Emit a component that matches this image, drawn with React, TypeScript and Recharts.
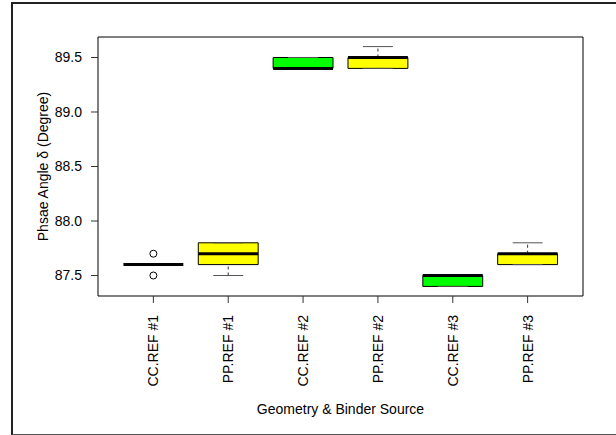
import React from 'react';
import {
  ComposedChart,
  XAxis,
  YAxis,
  Scatter,
  ReferenceArea,
  ReferenceLine,
  Label,
} from 'recharts';

const categories = ['CC.REF #1', 'PP.REF #1', 'CC.REF #2', 'PP.REF #2', 'CC.REF #3', 'PP.REF #3'];
const whiskerLow = [87.6, 87.5, 89.4, 89.4, 87.4, 87.6];
const quartile1 = [87.6, 87.6, 89.4, 89.4, 87.4, 87.6];
const medians = [87.6, 87.7, 89.4, 89.5, 87.5, 87.7];
const quartile3 = [87.6, 87.8, 89.5, 89.5, 87.5, 87.7];
const whiskerHigh = [87.6, 87.8, 89.5, 89.6, 87.5, 87.8];
const outlierGroup = [1, 1];
const outlierValue = [87.7, 87.5];
const yTicks = [87.5, 88.0, 88.5, 89.0, 89.5];

const fillColors = ['#00ff00', '#ffff00'];
const FONT = '"Liberation Sans", Arial, Helvetica, sans-serif';

// R-style axis ranges: 4% padding on each side
const X_DOMAIN: [number, number] = [0.26, 6.74];
const Y_DOMAIN: [number, number] = [87.312, 89.688];
const HALF_BOX = 0.4;
const HALF_CAP = 0.2;

const boxes = categories.map((name, i) => ({
  name,
  pos: i + 1,
  lo: whiskerLow[i],
  q1: quartile1[i],
  med: medians[i],
  q3: quartile3[i],
  hi: whiskerHigh[i],
  fill: fillColors[i % 2],
}));

const outliers = outlierGroup.map((g, i) => ({ group: g, value: outlierValue[i] }));

const CategoryTick = (props: any) => {
  const { x, y, payload } = props;
  return (
    <text
      x={x}
      y={y}
      dy="0.36em"
      transform={`rotate(-90, ${x}, ${y})`}
      textAnchor="end"
      fontSize={14}
      fontFamily={FONT}
      fill="#000"
    >
      {categories[payload.value - 1]}
    </text>
  );
};

const OpenCircle = (props: any) => (
  <circle cx={props.cx} cy={props.cy} r={3.5} fill="none" stroke="#000" strokeWidth={1} />
);

const App = () => {
  return (
    <div style={{ position: 'absolute', left: 0, top: 0, width: 616, height: 435, background: '#fff', overflow: 'hidden' }}>
      <div
        style={{
          position: 'absolute',
          left: 11,
          top: 2,
          width: 640,
          height: 430,
          borderLeft: '2px solid #222',
          borderTop: '2px solid #222',
          borderBottom: '2px solid #555',
        }}
      />
      <ComposedChart
        width={616}
        height={435}
        margin={{ top: 37, right: 33, bottom: 138, left: 97 }}
        style={{ position: 'absolute', left: 0, top: 0, fontFamily: FONT }}
      >
        <XAxis
          type="number"
          dataKey="group"
          domain={X_DOMAIN}
          allowDataOverflow
          ticks={[1, 2, 3, 4, 5, 6]}
          interval={0}
          height={1}
          axisLine={false}
          tickSize={7}
          tickMargin={12}
          tickLine={{ stroke: '#333' }}
          tick={<CategoryTick />}
        >
          <Label value="Geometry & Binder Source" position="center" dy={113} fontSize={14} fill="#000" fontFamily={FONT} />
        </XAxis>
        <YAxis
          type="number"
          dataKey="value"
          domain={Y_DOMAIN}
          allowDataOverflow
          ticks={yTicks}
          interval={0}
          width={1}
          axisLine={false}
          tickSize={7}
          tickMargin={9}
          tickLine={{ stroke: '#333' }}
          tick={{ fill: '#000', fontSize: 14, fontFamily: FONT }}
          tickFormatter={(v: number) => v.toFixed(1)}
        >
          <Label value="Phsae Angle δ (Degree)" position="center" angle={-90} dx={-54} fontSize={14} fill="#000" fontFamily={FONT} />
        </YAxis>

        {/* plot frame */}
        <ReferenceArea x1={X_DOMAIN[0]} x2={X_DOMAIN[1]} y1={Y_DOMAIN[0]} y2={Y_DOMAIN[1]} fill="none" stroke="#000" strokeWidth={1} fillOpacity={0} />

        {/* boxes */}
        {boxes.map((b) => (
          <ReferenceArea
            key={`box-${b.name}`}
            x1={b.pos - HALF_BOX}
            x2={b.pos + HALF_BOX}
            y1={b.q1}
            y2={b.q3}
            fill={b.fill}
            fillOpacity={1}
            stroke="#000"
            strokeWidth={1}
          />
        ))}

        {/* dashed whiskers */}
        {boxes.map((b) => (
          <ReferenceLine
            key={`wl-${b.name}`}
            segment={[{ x: b.pos, y: b.lo }, { x: b.pos, y: b.q1 }]}
            stroke="#333"
            strokeDasharray="3 3"
          />
        ))}
        {boxes.map((b) => (
          <ReferenceLine
            key={`wh-${b.name}`}
            segment={[{ x: b.pos, y: b.q3 }, { x: b.pos, y: b.hi }]}
            stroke="#333"
            strokeDasharray="3 3"
          />
        ))}

        {/* whisker caps */}
        {boxes.map((b) => (
          <ReferenceLine
            key={`cl-${b.name}`}
            segment={[{ x: b.pos - HALF_CAP, y: b.lo }, { x: b.pos + HALF_CAP, y: b.lo }]}
            stroke="#555"
          />
        ))}
        {boxes.map((b) => (
          <ReferenceLine
            key={`ch-${b.name}`}
            segment={[{ x: b.pos - HALF_CAP, y: b.hi }, { x: b.pos + HALF_CAP, y: b.hi }]}
            stroke="#555"
          />
        ))}

        {/* medians */}
        {boxes.map((b) => (
          <ReferenceLine
            key={`med-${b.name}`}
            segment={[{ x: b.pos - HALF_BOX, y: b.med }, { x: b.pos + HALF_BOX, y: b.med }]}
            stroke="#000"
            strokeWidth={3}
          />
        ))}

        <Scatter data={outliers} dataKey="value" shape={<OpenCircle />} isAnimationActive={false} />
      </ComposedChart>
    </div>
  );
};

export default App;
